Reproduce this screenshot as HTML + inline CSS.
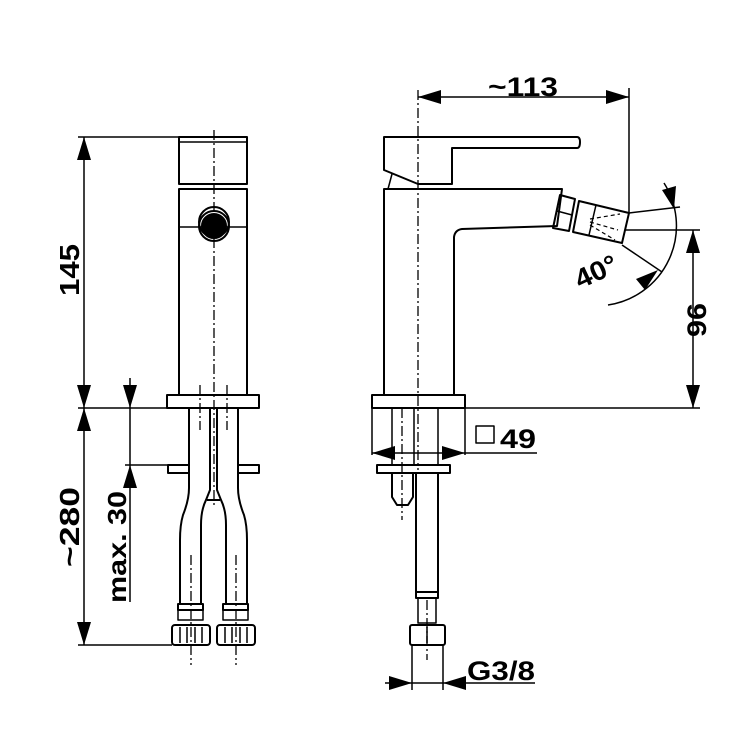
<!DOCTYPE html>
<html><head><meta charset="utf-8"><style>
html,body{margin:0;padding:0;background:#fff}
svg{display:block}
text{font-family:"Liberation Sans",Arial,sans-serif;font-weight:bold;fill:#000}
</style></head><body>
<svg width="750" height="750" viewBox="0 0 750 750" xmlns="http://www.w3.org/2000/svg">
<g fill="none" stroke="#000" stroke-width="2" stroke-linejoin="round">
<!-- LEFT VIEW -->
<rect x="179" y="137" width="68" height="47"/>
<line x1="179" y1="142" x2="247" y2="142" stroke-width="1.5"/>
<rect x="179" y="189" width="68" height="206"/>
<line x1="179" y1="227" x2="247" y2="227" stroke-width="1.5"/>
<circle cx="214" cy="222" r="15" stroke-width="2"/>
<circle cx="214" cy="226" r="12" fill="#000"/>
<circle cx="214" cy="226" r="15"/>
<rect x="167" y="395" width="92" height="13"/>
<!-- hoses -->
<path d="M189 408 V488 Q189 500 183 515 Q180 525 180 540 V604"/>
<path d="M210 408 V490 L206 500 Q201 510 201 525 V604"/>
<path d="M217 408 V490 L221 500 Q226 510 226 525 V604"/>
<path d="M238 408 V488 Q238 500 244 515 Q247 525 247 540 V604"/>
<line x1="207" y1="500" x2="220" y2="500"/>
<rect x="178" y="604" width="25" height="6"/><rect x="178" y="610" width="25" height="10" stroke-width="1.5"/>
<rect x="223" y="604" width="25" height="6"/><rect x="223" y="610" width="25" height="10" stroke-width="1.5"/>
<rect x="172" y="625" width="38" height="20" rx="3"/>
<rect x="217" y="625" width="38" height="20" rx="3"/>
<g stroke-width="1.5"><line x1="180" y1="627" x2="180" y2="643"/><line x1="187" y1="627" x2="187" y2="643"/><line x1="195" y1="627" x2="195" y2="643"/><line x1="202" y1="627" x2="202" y2="643"/>
<line x1="225" y1="627" x2="225" y2="643"/><line x1="232" y1="627" x2="232" y2="643"/><line x1="240" y1="627" x2="240" y2="643"/><line x1="247" y1="627" x2="247" y2="643"/></g>
<rect x="168" y="465" width="21" height="8"/>
<rect x="238" y="465" width="21" height="8"/>
<g stroke-width="1.3" stroke-dasharray="10,3,2,3">
<line x1="214" y1="130" x2="214" y2="505"/>
<line x1="200" y1="385" x2="200" y2="430"/><line x1="227" y1="385" x2="227" y2="430"/>
<line x1="191" y1="555" x2="191" y2="665"/><line x1="236" y1="555" x2="236" y2="665"/>
</g>
<!-- left dims -->
<g stroke-width="1.5">
<line x1="78" y1="137" x2="179" y2="137"/>
<line x1="84" y1="137" x2="84" y2="645"/>
<line x1="78" y1="408" x2="167" y2="408"/>
<line x1="78" y1="645" x2="172" y2="645"/>
<line x1="130" y1="378" x2="130" y2="602"/>
<line x1="125" y1="465" x2="168" y2="465"/>
</g>
<!-- RIGHT VIEW -->
<path d="M384 395 V189 H562 L557 226 L462 229 Q455 230 454 237 V395"/>
<path d="M384 137 H577 Q580 137 580 142 Q580 148 577 148 H452 V184 H418 L384 170 Z"/>
<path d="M392 174 L388 189" stroke-width="1.5"/>
<rect x="372" y="395" width="93" height="13"/>
<path d="M372 408 V455 M465 408 V455" stroke-width="1.5"/>
<line x1="392" y1="408" x2="392" y2="465" stroke-width="1.5"/>
<line x1="414" y1="408" x2="414" y2="465" stroke-width="1.5"/>
<line x1="438" y1="408" x2="438" y2="465" stroke-width="1.5"/>
<rect x="377" y="465" width="73" height="8"/>
<path d="M392 473 V497 L397 505 H408 L413 497 V473"/>
<path d="M416 473 V592 M438 473 V592"/>
<rect x="416" y="592" width="22" height="6"/>
<rect x="418" y="598" width="18" height="25" stroke-width="1.5"/>
<rect x="410" y="625" width="35" height="20" rx="2"/>
<line x1="427" y1="627" x2="427" y2="643" stroke-width="1.5"/>
<line x1="412" y1="645" x2="412" y2="690" stroke-width="1.5"/>
<line x1="443" y1="645" x2="443" y2="690" stroke-width="1.5"/>
<g stroke-width="1.3" stroke-dasharray="10,3,2,3">
<line x1="418" y1="90" x2="418" y2="470"/>
<line x1="402" y1="408" x2="402" y2="520"/>
<line x1="427" y1="600" x2="427" y2="660"/>
</g>
<!-- nozzle -->
<polygon points="560,195 575,199 569,231 553,228" />
<line x1="557" y1="211" x2="572" y2="215" stroke-width="1.5"/>
<polygon points="579,201 629,213 622,243 573,232"/>
<line x1="596" y1="205" x2="589" y2="235" stroke-width="1.5"/>
<g stroke-width="1.2" stroke-dasharray="4,3"><line x1="590" y1="219" x2="620" y2="214"/><line x1="590" y1="222" x2="618" y2="230"/><line x1="590" y1="225" x2="615" y2="240"/></g>
<!-- right dims -->
<g stroke-width="1.5">
<line x1="629" y1="88" x2="629" y2="213"/>
<line x1="418" y1="97" x2="629" y2="97"/>
<line x1="629" y1="213" x2="680" y2="207"/>
<line x1="625" y1="230" x2="700" y2="230"/>
<line x1="622" y1="245" x2="662" y2="272"/>
<path d="M664 183 A80 80 0 0 1 608 305"/>
<line x1="693" y1="230" x2="693" y2="408"/>
<line x1="465" y1="408" x2="700" y2="408"/>
<line x1="372" y1="453" x2="537" y2="453"/>
<line x1="385" y1="683" x2="535" y2="683"/>
</g>
<rect x="476" y="426" width="18" height="17" stroke-width="1.5"/>
</g>
<!-- arrowheads -->
<g fill="#000">
<polygon points="84,137 77,160 91,160"/>
<polygon points="84,408 77,385 91,385"/>
<polygon points="84,408 77,431 91,431"/>
<polygon points="84,645 77,622 91,622"/>
<polygon points="130,408 123,385 137,385"/>
<polygon points="130,465 123,488 137,488"/>
<polygon points="418,97 441,90 441,104"/>
<polygon points="629,97 606,90 606,104"/>
<polygon points="693,230 686,253 700,253"/>
<polygon points="693,408 686,385 700,385"/>
<polygon points="372,453 395,446 395,460"/>
<polygon points="465,453 442,446 442,460"/>
<polygon points="412,683 389,676 389,690"/>
<polygon points="443,683 466,676 466,690"/>
<polygon points="674,209 662,190 676,186"/>
<polygon points="658,270 645,290 636,279"/>
</g>
<!-- labels -->
<text x="488" y="96" font-size="27" textLength="70" lengthAdjust="spacingAndGlyphs">~113</text>
<text x="500" y="448" font-size="27" textLength="36" lengthAdjust="spacingAndGlyphs">49</text>
<text x="467" y="680" font-size="27" textLength="68" lengthAdjust="spacingAndGlyphs">G3/8</text>
<text transform="translate(79,270) rotate(-90)" font-size="28" text-anchor="middle" textLength="52" lengthAdjust="spacingAndGlyphs">145</text>
<text transform="translate(79,527) rotate(-90)" font-size="28" text-anchor="middle" textLength="80" lengthAdjust="spacingAndGlyphs">~280</text>
<text transform="translate(126,547) rotate(-90)" font-size="26" text-anchor="middle" textLength="112" lengthAdjust="spacingAndGlyphs">max. 30</text>
<text transform="translate(706,320) rotate(-90)" font-size="27" text-anchor="middle" textLength="34" lengthAdjust="spacingAndGlyphs">96</text>
<text transform="translate(600,280) rotate(-25)" font-size="27" text-anchor="middle" textLength="44" lengthAdjust="spacingAndGlyphs">40°</text>
</svg>
</body></html>
